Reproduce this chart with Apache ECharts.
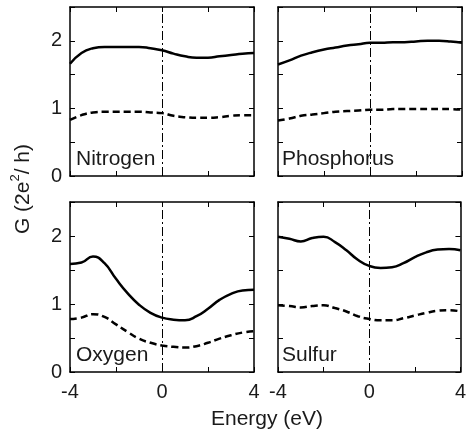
<!DOCTYPE html>
<html><head><meta charset="utf-8">
<script src="https://cdn.jsdelivr.net/npm/echarts@6/dist/echarts.min.js"></script>
<style>html,body{margin:0;padding:0;background:#fff}#c{width:469px;height:436px}</style>
</head><body><div id="c"></div>
<script>
const energy = [-4,-3.5,-3,-2.5,-2,-1.5,-1,-0.5,0,0.5,1,1.5,2,2.5,3,3.5,4];
const nitrogenSolid   = [1.66,1.82,1.89,1.91,1.91,1.91,1.91,1.89,1.86,1.81,1.77,1.75,1.75,1.77,1.79,1.81,1.82];
const nitrogenDashed  = [0.83,0.90,0.94,0.95,0.95,0.95,0.95,0.94,0.93,0.89,0.87,0.86,0.86,0.87,0.89,0.90,0.90];
const phosphorusSolid = [1.65,1.71,1.78,1.83,1.87,1.90,1.93,1.95,1.97,1.97,1.98,1.98,1.99,2.00,2.00,1.99,1.97];
const phosphorusDashed= [0.82,0.85,0.89,0.91,0.93,0.95,0.96,0.97,0.98,0.98,0.99,0.99,0.99,0.99,0.99,0.99,0.98];
const oxygenSolid     = [1.59,1.61,1.70,1.60,1.37,1.16,0.99,0.87,0.80,0.77,0.76,0.82,0.93,1.06,1.15,1.20,1.21];
const oxygenDashed    = [0.78,0.80,0.85,0.81,0.70,0.59,0.49,0.43,0.39,0.37,0.36,0.38,0.43,0.49,0.54,0.58,0.60];
const sulfurSolid     = [1.99,1.96,1.92,1.97,1.99,1.91,1.79,1.65,1.56,1.53,1.54,1.60,1.69,1.76,1.80,1.81,1.79];
const sulfurDashed    = [0.98,0.97,0.95,0.97,0.98,0.94,0.89,0.82,0.78,0.76,0.76,0.79,0.83,0.87,0.90,0.91,0.89];
const panelNames = ['Nitrogen','Phosphorus','Oxygen','Sulfur'];
const xTickLabels = ['-4','0','4'];
const yTickLabels = ['0','1','2'];
const xTitle = 'Energy (eV)';

const solids = [nitrogenSolid, phosphorusSolid, oxygenSolid, sulfurSolid];
const dasheds = [nitrogenDashed, phosphorusDashed, oxygenDashed, sulfurDashed];

const FONT = 'Liberation Sans, Arial, Helvetica, sans-serif';
const TXT = '#1a1a1a';
const grids = [
  {left:70, top:7, width:184, height:169},
  {left:278, top:7, width:184, height:169},
  {left:70, top:202, width:184, height:170},
  {left:278, top:202, width:184, height:170}
];
const panelLabelPos = [[76,170],[282,170],[76,366],[282,366]];

const xAxes = [], yAxes = [], series = [];
const axisLine = {show:true, onZero:false, lineStyle:{color:'#000', width:1.5}};
const tick = {inside:true, length:5, lineStyle:{color:'#000', width:1}};
grids.forEach((g, i) => {
  const bottomRow = i >= 2, leftCol = i % 2 === 0;
  xAxes.push({gridIndex:i, type:'value', min:-4, max:4, interval:2, position:'bottom',
    axisLine, axisTick:tick, splitLine:{show:false},
    axisLabel:{show:bottomRow, margin:10, color:TXT, fontSize:20, fontFamily:FONT,
      formatter:v => xTickLabels.includes(String(v)) ? String(v) : ''}});
  xAxes.push({gridIndex:i, type:'value', min:-4, max:4, interval:2, position:'top',
    axisLine, axisTick:tick, splitLine:{show:false}, axisLabel:{show:false}});
  yAxes.push({gridIndex:i, type:'value', min:0, max:2.5, interval:0.5, position:'left',
    axisLine, axisTick:tick, splitLine:{show:false},
    axisLabel:{show:leftCol, margin:8, color:TXT, fontSize:20, fontFamily:FONT,
      formatter:v => yTickLabels.includes(String(v)) ? String(v) : ''}});
  yAxes.push({gridIndex:i, type:'value', min:0, max:2.5, interval:0.5, position:'right',
    axisLine, axisTick:tick, splitLine:{show:false}, axisLabel:{show:false}});
  series.push({type:'line', xAxisIndex:2*i, yAxisIndex:2*i, showSymbol:false, smooth:0.5,
    data: energy.map((x,j)=>[x, solids[i][j]]),
    lineStyle:{color:'#000', width:2.5}, z:3,
    markLine:{silent:true, symbol:'none', label:{show:false},
      lineStyle:{color:'#000', width:1, type:[9,3,2,3]}, data:[{xAxis:0}]}});
  series.push({type:'line', xAxisIndex:2*i, yAxisIndex:2*i, showSymbol:false, smooth:0.5,
    data: energy.map((x,j)=>[x, dasheds[i][j]]),
    lineStyle:{color:'#000', width:2.5, type:[7,4]}, z:3});
});

const graphic = panelNames.map((n, i) => ({type:'text', left:panelLabelPos[i][0], top:panelLabelPos[i][1]-21, z:10,
  style:{text:n, fill:TXT, font:'21px ' + FONT}}));
graphic.push({type:'text', x:21, y:189, rotation:Math.PI/2, z:10,
  style:{text:'{a|G (2e}{s|2}{a|/ h)}', align:'center', verticalAlign:'middle', fill:TXT,
    rich:{a:{fontSize:21, fontFamily:FONT, lineHeight:25, fill:TXT, verticalAlign:'bottom'},
          s:{fontSize:13, fontFamily:FONT, lineHeight:14, fill:TXT, verticalAlign:'top'}}}});
graphic.push({type:'text', x:267, y:419, z:10,
  style:{text:xTitle, align:'center', verticalAlign:'middle', fill:TXT, font:'21px ' + FONT}});

const chart = echarts.init(document.getElementById('c'), null, {renderer:'canvas'});
chart.setOption({animation:false, backgroundColor:'#fff', grid:grids, xAxis:xAxes, yAxis:yAxes, series, graphic});
</script>
</body></html>
